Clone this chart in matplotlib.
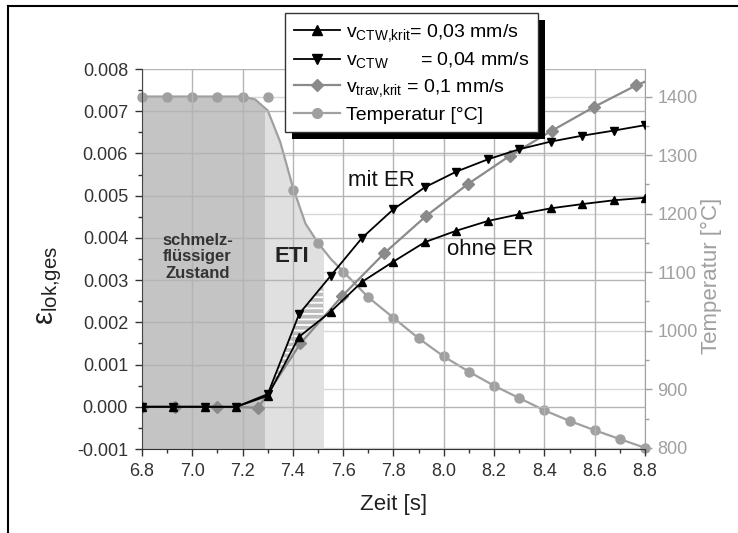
import matplotlib
matplotlib.use('Agg')
import matplotlib.pyplot as plt
from matplotlib.patches import Rectangle
from matplotlib.lines import Line2D
from matplotlib.ticker import MultipleLocator, FormatStrFormatter

plt.rcParams['font.family'] = ['Liberation Sans', 'DejaVu Sans']
plt.rcParams['mathtext.fontset'] = 'custom'
plt.rcParams['mathtext.rm'] = 'Liberation Sans'
plt.rcParams['mathtext.it'] = 'Liberation Sans:italic'
plt.rcParams['axes.unicode_minus'] = False
plt.rcParams['hatch.color'] = 'white'
plt.rcParams['hatch.linewidth'] = 1.3

# ---------------- data ----------------
t_ctw = [6.8, 6.925, 7.05, 7.175, 7.3, 7.425, 7.55, 7.675, 7.8, 7.925, 8.05,
         8.175, 8.3, 8.425, 8.55, 8.675, 8.8]
eps_ctw_krit = [0, 0, 0, 0, 0.00026, 0.00166, 0.00225, 0.00296, 0.00344, 0.0039,
                0.00417, 0.0044, 0.00456, 0.0047, 0.0048, 0.00489, 0.00495]
eps_ctw = [0, 0, 0, 0, 0.0003, 0.0022, 0.0031, 0.0040, 0.00468, 0.0052,
           0.00557, 0.00586, 0.0061, 0.00628, 0.00642, 0.00654, 0.00667]

t_trav = [6.8, 6.93, 7.097, 7.263, 7.43, 7.597, 7.764, 7.93, 8.097, 8.264,
          8.43, 8.597, 8.764, 8.8]
eps_trav = [0, 0, 0, -0.00002, 0.0015, 0.00263, 0.00364, 0.00452, 0.00528,
            0.00595, 0.00654, 0.0071, 0.00761, 0.0077]

t_temp_marker = [6.8, 6.9, 7.0, 7.1, 7.2, 7.3, 7.4, 7.5, 7.6, 7.7, 7.8, 7.9,
                 8.0, 8.1, 8.2, 8.3, 8.4, 8.5, 8.6, 8.7, 8.8]
temp_marker = [1400, 1400, 1400, 1400, 1400, 1400, 1240, 1150, 1101, 1057, 1022,
               987, 956, 930, 906, 885, 864, 846, 830, 815, 800]

t_temp_line = [6.8, 6.9, 7.0, 7.1, 7.2, 7.25, 7.3, 7.35, 7.4, 7.45, 7.5, 7.55,
               7.6, 7.7, 7.8, 7.9, 8.0, 8.1, 8.2, 8.3, 8.4, 8.5, 8.6, 8.7, 8.8]
temp_line = [1400, 1400, 1400, 1400, 1400, 1395, 1376, 1322, 1245, 1183, 1150,
             1123, 1101, 1057, 1022, 987, 956, 930, 906, 885, 864, 846, 830,
             815, 800]

x_ticks = [6.8, 7.0, 7.2, 7.4, 7.6, 7.8, 8.0, 8.2, 8.4, 8.6, 8.8]
zone_melt = (6.8, 7.29)
zone_eti = (7.29, 7.52)

legend_labels = [r'v$_{\mathrm{CTW{,}krit}}$= 0,03 mm/s',
                 r'v$_{\mathrm{CTW}}$      = 0,04 mm/s',
                 r'v$_{\mathrm{trav{,}krit}}$ = 0,1 mm/s',
                 'Temperatur [°C]']

# ---------------- figure ----------------
W, H = 738, 533
fig = plt.figure(figsize=(W / 100, H / 100), dpi=100)
L, R, B, T = 142, 645, 449, 69
ax1 = fig.add_axes([L / W, 1 - B / H, (R - L) / W, (B - T) / H])
ax2 = ax1.twinx()
ax1.set_zorder(ax2.get_zorder() + 1)
ax1.patch.set_visible(False)

GRAY_T = '#a0a0a0'
GRAY_D = '#8a8a8a'

# temperature axis (behind)
T_LO, T_HI = 798, 1447
ax2.set_ylim(T_LO, T_HI)
ax2.set_axisbelow(True)
ax2.yaxis.set_major_locator(MultipleLocator(100))
ax2.yaxis.set_minor_locator(MultipleLocator(50))
ax2.grid(True, which='major', axis='y', color='#d8d8d8', lw=1.0)
for lo, hi, col in [(zone_melt[0], zone_melt[1], '#c4c4c4'),
                    (zone_eti[0], zone_eti[1], '#e0e0e0')]:
    poly = ax2.fill_between(t_temp_line, temp_line, T_LO, color=col, lw=0, zorder=1)
    clip = Rectangle((lo, T_LO), hi - lo, T_HI - T_LO, transform=ax2.transData)
    poly.set_clip_path(clip)
ax2.plot(t_temp_line, temp_line, color=GRAY_T, lw=1.6, zorder=3)
ax2.plot(t_temp_marker, temp_marker, ls='none', marker='o', ms=6.5,
         color=GRAY_T, zorder=3, clip_on=False)

# strain axis (front)
ax1.set_xlim(6.8, 8.8)
ax1.set_ylim(-0.001, 0.008)
ax1.set_xticks(x_ticks)
ax1.xaxis.set_minor_locator(MultipleLocator(0.1))
ax1.xaxis.set_major_formatter(FormatStrFormatter('%.1f'))
ax1.yaxis.set_major_locator(MultipleLocator(0.001))
ax1.yaxis.set_minor_locator(MultipleLocator(0.0005))
ax1.yaxis.set_major_formatter(FormatStrFormatter('%.3f'))
ax1.grid(True, which='major', color='#b4b4b4', lw=1.0, zorder=0.5)

# hatched wedge in ETI
wedge = ax1.fill_between(t_ctw, eps_ctw_krit, eps_ctw, facecolor='#bdbdbd',
                         edgecolor='white', hatch='---', lw=0, zorder=1.5)
wedge.set_clip_path(Rectangle((zone_eti[0], -0.001), zone_eti[1] - zone_eti[0],
                              0.009, transform=ax1.transData))

ax1.plot(t_trav, eps_trav, color=GRAY_D, lw=1.6, marker='D', ms=6,
         markevery=list(range(len(t_trav) - 1)), zorder=2)
ax1.plot(t_ctw, eps_ctw_krit, color='black', lw=1.3, marker='^', ms=6, zorder=3)
ax1.plot(t_ctw, eps_ctw, color='black', lw=1.3, marker='v', ms=6, zorder=3)

# spines & ticks
ax1.spines['top'].set_visible(False)
ax2.spines['top'].set_visible(False)
ax1.spines['right'].set_visible(False)
ax2.spines['left'].set_visible(False)
ax2.spines['bottom'].set_visible(False)
ax2.spines['right'].set_color(GRAY_T)
ax1.spines['left'].set_color('#444444')
ax1.spines['bottom'].set_color('#333333')
ax1.tick_params(axis='both', which='major', direction='out', length=5,
                width=1, labelsize=13, colors='#333333', pad=5)
ax1.tick_params(axis='both', which='minor', direction='out', length=3,
                width=1, colors='#333333')
ax2.tick_params(axis='y', which='major', direction='out', length=5,
                width=1, labelsize=13, colors=GRAY_T, pad=4)
ax2.tick_params(axis='y', which='minor', direction='out', length=3,
                width=1, colors=GRAY_T)

ax1.set_xlabel('Zeit [s]', fontsize=16, color='#222222', labelpad=10)
ax1.set_ylabel(r'ε$_{\mathrm{lok{,}ges}}$', fontsize=21, color='#222222')
ax1.yaxis.set_label_coords(-0.155, 0.43)
ax2.set_ylabel('Temperatur [°C]', fontsize=16, color=GRAY_T)
ax2.yaxis.set_label_coords(1.112, 0.455)

# annotations
ax1.text(7.754, 0.00535, 'mit ER', fontsize=16, ha='center', va='center',
         color='#111111', zorder=5)
ax1.text(8.184, 0.00372, 'ohne ER', fontsize=16, ha='center', va='center',
         color='#111111', zorder=5)
ax1.text(7.021, 0.00355, 'schmelz-\nflüssiger\nZustand', fontsize=12,
         fontweight='bold', ha='center', va='center', color='#333333',
         linespacing=1.15, zorder=5)
ax1.text(7.395, 0.00356, 'ETI', fontsize=16, fontweight='bold', ha='center',
         va='center', color='#222222', zorder=5)

# legend
handles = [Line2D([], [], color='black', lw=1.3, marker='^', ms=7),
           Line2D([], [], color='black', lw=1.3, marker='v', ms=7),
           Line2D([], [], color=GRAY_D, lw=1.6, marker='D', ms=6),
           Line2D([], [], color=GRAY_T, lw=1.6, marker='o', ms=7)]
leg = fig.legend(handles, legend_labels, loc='upper left',
                 bbox_to_anchor=(285 / W, 1 - 13 / H), fontsize=14,
                 frameon=True, fancybox=False, edgecolor='#333333',
                 framealpha=1, handlelength=2.4, handletextpad=0.3,
                 labelspacing=0.35, borderpad=0.45, borderaxespad=0)
leg.get_frame().set_linewidth(1.0)
leg.set_zorder(6)

fig.canvas.draw()
bb = leg.get_window_extent()
sh = Rectangle(((bb.x0 + 7) / W, (bb.y0 - 7) / H), bb.width / W, bb.height / H,
               transform=fig.transFigure, facecolor='black', edgecolor='none',
               zorder=5)
fig.add_artist(sh)

# outer border (left and top)
fig.add_artist(Line2D([8 / W, 8 / W], [0, 1 - 6 / H], color='black', lw=1.5,
                      transform=fig.transFigure))
fig.add_artist(Line2D([8 / W, 1], [1 - 6 / H, 1 - 6 / H], color='black', lw=1.5,
                      transform=fig.transFigure))

fig.savefig('out.png', dpi=100)
